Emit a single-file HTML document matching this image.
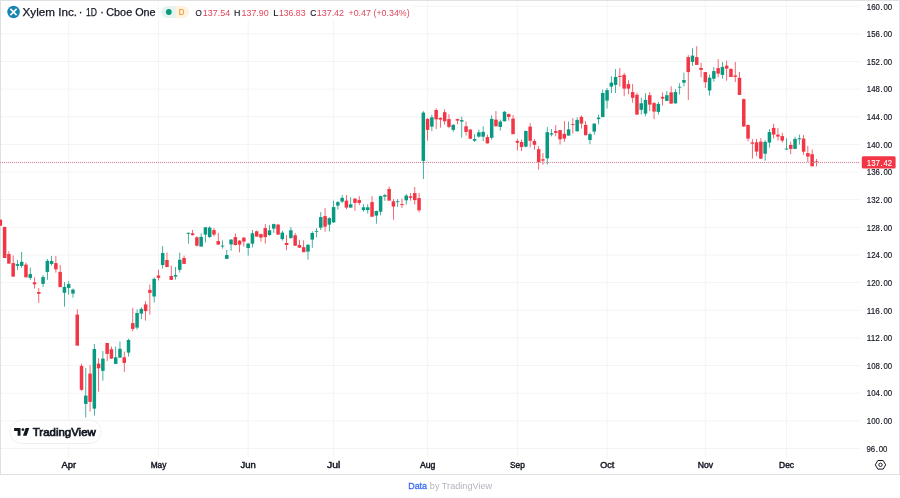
<!DOCTYPE html>
<html><head><meta charset="utf-8"><title>XYL</title>
<style>
html,body{margin:0;padding:0;background:#ffffff;width:900px;height:498px;overflow:hidden;}
body{font-family:"Liberation Sans",sans-serif;position:relative;}
.w{position:absolute;left:0;top:0;width:900px;height:475px;box-sizing:border-box;border:1px solid #e0e3eb;}
svg{position:absolute;left:0;top:0;filter:blur(0.35px);}
</style></head>
<body>
<svg width="900" height="498" viewBox="0 0 900 498">
<rect x="0.5" y="0.5" width="899" height="474" fill="none" stroke="#dfe0e2" stroke-width="1"/>
<rect x="1" y="5.70" width="859" height="1" fill="#f4f4f6"/>
<rect x="1" y="33.34" width="859" height="1" fill="#f4f4f6"/>
<rect x="1" y="60.99" width="859" height="1" fill="#f4f4f6"/>
<rect x="1" y="88.63" width="859" height="1" fill="#f4f4f6"/>
<rect x="1" y="116.28" width="859" height="1" fill="#f4f4f6"/>
<rect x="1" y="143.92" width="859" height="1" fill="#f4f4f6"/>
<rect x="1" y="171.56" width="859" height="1" fill="#f4f4f6"/>
<rect x="1" y="199.21" width="859" height="1" fill="#f4f4f6"/>
<rect x="1" y="226.85" width="859" height="1" fill="#f4f4f6"/>
<rect x="1" y="254.50" width="859" height="1" fill="#f4f4f6"/>
<rect x="1" y="282.14" width="859" height="1" fill="#f4f4f6"/>
<rect x="1" y="309.78" width="859" height="1" fill="#f4f4f6"/>
<rect x="1" y="337.43" width="859" height="1" fill="#f4f4f6"/>
<rect x="1" y="365.07" width="859" height="1" fill="#f4f4f6"/>
<rect x="1" y="392.72" width="859" height="1" fill="#f4f4f6"/>
<rect x="1" y="420.36" width="859" height="1" fill="#f4f4f6"/>
<rect x="1" y="448.00" width="859" height="1" fill="#f4f4f6"/>
<rect x="68.20" y="1" width="1" height="456" fill="#f4f4f6"/>
<rect x="157.92" y="1" width="1" height="456" fill="#f4f4f6"/>
<rect x="247.65" y="1" width="1" height="456" fill="#f4f4f6"/>
<rect x="333.10" y="1" width="1" height="456" fill="#f4f4f6"/>
<rect x="427.10" y="1" width="1" height="456" fill="#f4f4f6"/>
<rect x="516.82" y="1" width="1" height="456" fill="#f4f4f6"/>
<rect x="606.55" y="1" width="1" height="456" fill="#f4f4f6"/>
<rect x="704.82" y="1" width="1" height="456" fill="#f4f4f6"/>
<rect x="786.00" y="1" width="1" height="456" fill="#f4f4f6"/>
<rect x="1" y="1" width="411" height="18.8" fill="#ffffff"/>
<rect x="157.92" y="1" width="1" height="19" fill="#f4f4f6" opacity="0.6"/>
<rect x="-0.04" y="219.70" width="0.75" height="6.00" fill="#f23645"/>
<rect x="-1.41" y="219.70" width="3.5" height="6.00" fill="#f23645"/>
<rect x="4.24" y="226.90" width="0.75" height="31.10" fill="#f23645"/>
<rect x="2.86" y="226.90" width="3.5" height="31.10" fill="#f23645"/>
<rect x="8.51" y="251.20" width="0.75" height="12.40" fill="#f23645"/>
<rect x="7.13" y="254.00" width="3.5" height="9.60" fill="#f23645"/>
<rect x="12.78" y="255.50" width="0.75" height="21.10" fill="#f23645"/>
<rect x="11.41" y="263.10" width="3.5" height="13.50" fill="#f23645"/>
<rect x="17.05" y="260.00" width="0.75" height="9.90" fill="#089981"/>
<rect x="15.68" y="264.10" width="3.5" height="1.80" fill="#089981"/>
<rect x="21.33" y="252.00" width="0.75" height="15.90" fill="#089981"/>
<rect x="19.95" y="261.80" width="3.5" height="4.10" fill="#089981"/>
<rect x="25.60" y="262.50" width="0.75" height="14.80" fill="#f23645"/>
<rect x="24.22" y="264.60" width="3.5" height="12.70" fill="#f23645"/>
<rect x="29.87" y="267.60" width="0.75" height="12.30" fill="#089981"/>
<rect x="28.50" y="274.10" width="3.5" height="3.80" fill="#089981"/>
<rect x="34.14" y="277.30" width="0.75" height="11.30" fill="#f23645"/>
<rect x="32.77" y="282.30" width="3.5" height="2.00" fill="#f23645"/>
<rect x="38.42" y="288.20" width="0.75" height="14.70" fill="#f23645"/>
<rect x="37.04" y="292.00" width="3.5" height="1.80" fill="#f23645"/>
<rect x="42.69" y="275.10" width="0.75" height="12.00" fill="#089981"/>
<rect x="41.31" y="277.10" width="3.5" height="6.80" fill="#089981"/>
<rect x="46.96" y="259.00" width="0.75" height="20.90" fill="#089981"/>
<rect x="45.59" y="260.80" width="3.5" height="11.10" fill="#089981"/>
<rect x="51.23" y="256.00" width="0.75" height="9.60" fill="#089981"/>
<rect x="49.86" y="261.00" width="3.5" height="2.90" fill="#089981"/>
<rect x="55.51" y="256.00" width="0.75" height="16.60" fill="#f23645"/>
<rect x="54.13" y="263.10" width="3.5" height="6.20" fill="#f23645"/>
<rect x="59.78" y="264.90" width="0.75" height="22.20" fill="#f23645"/>
<rect x="58.40" y="271.90" width="3.5" height="15.20" fill="#f23645"/>
<rect x="64.05" y="282.00" width="0.75" height="24.60" fill="#089981"/>
<rect x="62.68" y="286.90" width="3.5" height="5.90" fill="#089981"/>
<rect x="68.33" y="281.20" width="0.75" height="13.60" fill="#089981"/>
<rect x="66.95" y="284.10" width="3.5" height="3.80" fill="#089981"/>
<rect x="72.60" y="288.60" width="0.75" height="9.10" fill="#089981"/>
<rect x="71.22" y="289.60" width="3.5" height="4.00" fill="#089981"/>
<rect x="76.87" y="309.10" width="0.75" height="36.50" fill="#f23645"/>
<rect x="75.50" y="314.60" width="3.5" height="31.00" fill="#f23645"/>
<rect x="81.14" y="363.60" width="0.75" height="27.30" fill="#f23645"/>
<rect x="79.77" y="365.90" width="3.5" height="23.90" fill="#f23645"/>
<rect x="85.42" y="368.10" width="0.75" height="49.30" fill="#089981"/>
<rect x="84.04" y="395.60" width="3.5" height="8.30" fill="#089981"/>
<rect x="89.69" y="365.10" width="0.75" height="46.50" fill="#f23645"/>
<rect x="88.31" y="373.60" width="3.5" height="28.30" fill="#f23645"/>
<rect x="93.96" y="344.00" width="0.75" height="71.60" fill="#089981"/>
<rect x="92.59" y="349.00" width="3.5" height="59.60" fill="#089981"/>
<rect x="98.23" y="358.10" width="0.75" height="33.50" fill="#f23645"/>
<rect x="96.86" y="363.60" width="3.5" height="4.70" fill="#f23645"/>
<rect x="102.51" y="351.00" width="0.75" height="29.70" fill="#089981"/>
<rect x="101.13" y="358.60" width="3.5" height="12.30" fill="#089981"/>
<rect x="106.78" y="343.00" width="0.75" height="18.10" fill="#f23645"/>
<rect x="105.40" y="343.00" width="3.5" height="10.90" fill="#f23645"/>
<rect x="111.05" y="346.50" width="0.75" height="12.50" fill="#f23645"/>
<rect x="109.68" y="349.20" width="3.5" height="9.40" fill="#f23645"/>
<rect x="115.32" y="346.50" width="0.75" height="17.50" fill="#089981"/>
<rect x="113.95" y="357.30" width="3.5" height="6.60" fill="#089981"/>
<rect x="119.60" y="341.50" width="0.75" height="16.50" fill="#089981"/>
<rect x="118.22" y="348.80" width="3.5" height="8.80" fill="#089981"/>
<rect x="123.87" y="351.50" width="0.75" height="20.40" fill="#f23645"/>
<rect x="122.49" y="357.30" width="3.5" height="5.60" fill="#f23645"/>
<rect x="128.14" y="338.70" width="0.75" height="17.90" fill="#089981"/>
<rect x="126.77" y="340.00" width="3.5" height="12.60" fill="#089981"/>
<rect x="132.41" y="307.90" width="0.75" height="23.40" fill="#f23645"/>
<rect x="131.04" y="323.10" width="3.5" height="5.80" fill="#f23645"/>
<rect x="136.69" y="309.50" width="0.75" height="20.10" fill="#089981"/>
<rect x="135.31" y="313.00" width="3.5" height="14.60" fill="#089981"/>
<rect x="140.96" y="307.20" width="0.75" height="11.90" fill="#089981"/>
<rect x="139.58" y="308.90" width="3.5" height="4.70" fill="#089981"/>
<rect x="145.23" y="301.10" width="0.75" height="19.50" fill="#f23645"/>
<rect x="143.86" y="304.40" width="3.5" height="6.70" fill="#f23645"/>
<rect x="149.50" y="284.50" width="0.75" height="30.20" fill="#f23645"/>
<rect x="148.13" y="289.90" width="3.5" height="3.00" fill="#f23645"/>
<rect x="153.78" y="277.40" width="0.75" height="25.20" fill="#089981"/>
<rect x="152.40" y="278.80" width="3.5" height="17.70" fill="#089981"/>
<rect x="158.05" y="269.80" width="0.75" height="10.70" fill="#f23645"/>
<rect x="156.67" y="275.50" width="3.5" height="2.30" fill="#f23645"/>
<rect x="162.32" y="246.10" width="0.75" height="22.50" fill="#089981"/>
<rect x="160.95" y="253.00" width="3.5" height="12.10" fill="#089981"/>
<rect x="166.59" y="252.50" width="0.75" height="14.60" fill="#f23645"/>
<rect x="165.22" y="260.00" width="3.5" height="7.10" fill="#f23645"/>
<rect x="170.87" y="265.60" width="0.75" height="14.30" fill="#f23645"/>
<rect x="169.49" y="276.00" width="3.5" height="3.90" fill="#f23645"/>
<rect x="175.14" y="266.90" width="0.75" height="12.70" fill="#089981"/>
<rect x="173.76" y="275.10" width="3.5" height="1.50" fill="#089981"/>
<rect x="179.41" y="252.50" width="0.75" height="20.10" fill="#089981"/>
<rect x="178.04" y="259.80" width="3.5" height="10.00" fill="#089981"/>
<rect x="183.69" y="255.60" width="0.75" height="8.30" fill="#f23645"/>
<rect x="182.31" y="258.00" width="3.5" height="5.90" fill="#f23645"/>
<rect x="187.96" y="232.60" width="0.75" height="11.10" fill="#089981"/>
<rect x="186.58" y="232.80" width="3.5" height="1.00" fill="#089981"/>
<rect x="192.23" y="229.90" width="0.75" height="5.70" fill="#f23645"/>
<rect x="190.86" y="233.30" width="3.5" height="1.80" fill="#f23645"/>
<rect x="196.50" y="236.30" width="0.75" height="10.20" fill="#f23645"/>
<rect x="195.13" y="237.30" width="3.5" height="8.40" fill="#f23645"/>
<rect x="200.78" y="233.30" width="0.75" height="13.30" fill="#089981"/>
<rect x="199.40" y="236.90" width="3.5" height="9.70" fill="#089981"/>
<rect x="205.05" y="227.10" width="0.75" height="15.30" fill="#089981"/>
<rect x="203.67" y="227.30" width="3.5" height="7.30" fill="#089981"/>
<rect x="209.32" y="226.30" width="0.75" height="11.70" fill="#089981"/>
<rect x="207.95" y="227.60" width="3.5" height="9.40" fill="#089981"/>
<rect x="213.59" y="228.10" width="0.75" height="8.20" fill="#f23645"/>
<rect x="212.22" y="230.10" width="3.5" height="4.50" fill="#f23645"/>
<rect x="217.87" y="232.90" width="0.75" height="11.70" fill="#f23645"/>
<rect x="216.49" y="241.10" width="3.5" height="3.50" fill="#f23645"/>
<rect x="222.14" y="240.40" width="0.75" height="8.20" fill="#089981"/>
<rect x="220.76" y="245.60" width="3.5" height="0.90" fill="#089981"/>
<rect x="226.41" y="250.00" width="0.75" height="8.90" fill="#089981"/>
<rect x="225.04" y="255.00" width="3.5" height="3.90" fill="#089981"/>
<rect x="230.68" y="239.10" width="0.75" height="11.60" fill="#089981"/>
<rect x="229.31" y="239.60" width="3.5" height="4.80" fill="#089981"/>
<rect x="234.96" y="233.40" width="0.75" height="12.20" fill="#f23645"/>
<rect x="233.58" y="237.10" width="3.5" height="7.90" fill="#f23645"/>
<rect x="239.23" y="240.10" width="0.75" height="12.30" fill="#f23645"/>
<rect x="237.85" y="240.60" width="3.5" height="4.00" fill="#f23645"/>
<rect x="243.50" y="237.00" width="0.75" height="9.50" fill="#f23645"/>
<rect x="242.13" y="237.70" width="3.5" height="3.90" fill="#f23645"/>
<rect x="247.77" y="243.00" width="0.75" height="12.60" fill="#089981"/>
<rect x="246.40" y="243.60" width="3.5" height="4.40" fill="#089981"/>
<rect x="252.05" y="230.10" width="0.75" height="17.30" fill="#089981"/>
<rect x="250.67" y="233.30" width="3.5" height="10.40" fill="#089981"/>
<rect x="256.32" y="230.60" width="0.75" height="6.00" fill="#f23645"/>
<rect x="254.94" y="231.30" width="3.5" height="5.30" fill="#f23645"/>
<rect x="260.59" y="233.60" width="0.75" height="8.00" fill="#f23645"/>
<rect x="259.22" y="234.10" width="3.5" height="3.50" fill="#f23645"/>
<rect x="264.86" y="224.10" width="0.75" height="19.50" fill="#f23645"/>
<rect x="263.49" y="228.10" width="3.5" height="9.00" fill="#f23645"/>
<rect x="269.14" y="225.10" width="0.75" height="10.50" fill="#089981"/>
<rect x="267.76" y="230.30" width="3.5" height="4.80" fill="#089981"/>
<rect x="273.41" y="223.60" width="0.75" height="9.30" fill="#089981"/>
<rect x="272.03" y="224.10" width="3.5" height="4.50" fill="#089981"/>
<rect x="277.68" y="223.90" width="0.75" height="11.00" fill="#f23645"/>
<rect x="276.31" y="224.60" width="3.5" height="10.00" fill="#f23645"/>
<rect x="281.95" y="230.90" width="0.75" height="9.70" fill="#089981"/>
<rect x="280.58" y="232.60" width="3.5" height="6.50" fill="#089981"/>
<rect x="286.23" y="235.10" width="0.75" height="15.10" fill="#f23645"/>
<rect x="284.85" y="243.00" width="3.5" height="2.00" fill="#f23645"/>
<rect x="290.50" y="227.10" width="0.75" height="11.50" fill="#089981"/>
<rect x="289.13" y="230.30" width="3.5" height="7.80" fill="#089981"/>
<rect x="294.77" y="232.90" width="0.75" height="12.80" fill="#f23645"/>
<rect x="293.40" y="235.30" width="3.5" height="10.40" fill="#f23645"/>
<rect x="299.05" y="239.90" width="0.75" height="7.80" fill="#f23645"/>
<rect x="297.67" y="245.00" width="3.5" height="2.70" fill="#f23645"/>
<rect x="303.32" y="240.30" width="0.75" height="11.90" fill="#f23645"/>
<rect x="301.94" y="247.20" width="3.5" height="5.00" fill="#f23645"/>
<rect x="307.59" y="244.20" width="0.75" height="15.40" fill="#089981"/>
<rect x="306.22" y="244.80" width="3.5" height="6.80" fill="#089981"/>
<rect x="311.86" y="231.30" width="0.75" height="16.50" fill="#089981"/>
<rect x="310.49" y="233.00" width="3.5" height="6.60" fill="#089981"/>
<rect x="316.14" y="228.30" width="0.75" height="9.10" fill="#089981"/>
<rect x="314.76" y="231.20" width="3.5" height="0.80" fill="#089981"/>
<rect x="320.41" y="212.10" width="0.75" height="17.90" fill="#089981"/>
<rect x="319.03" y="217.10" width="3.5" height="10.60" fill="#089981"/>
<rect x="324.68" y="208.10" width="0.75" height="23.70" fill="#f23645"/>
<rect x="323.31" y="216.10" width="3.5" height="10.50" fill="#f23645"/>
<rect x="328.95" y="217.10" width="0.75" height="14.40" fill="#089981"/>
<rect x="327.58" y="218.20" width="3.5" height="6.50" fill="#089981"/>
<rect x="333.23" y="200.60" width="0.75" height="22.10" fill="#089981"/>
<rect x="331.85" y="207.10" width="3.5" height="15.30" fill="#089981"/>
<rect x="337.50" y="201.10" width="0.75" height="8.50" fill="#089981"/>
<rect x="336.12" y="202.10" width="3.5" height="3.50" fill="#089981"/>
<rect x="341.77" y="195.10" width="0.75" height="8.00" fill="#089981"/>
<rect x="340.40" y="197.90" width="3.5" height="3.70" fill="#089981"/>
<rect x="346.04" y="195.10" width="0.75" height="14.00" fill="#f23645"/>
<rect x="344.67" y="200.60" width="3.5" height="7.00" fill="#f23645"/>
<rect x="350.32" y="197.10" width="0.75" height="10.50" fill="#089981"/>
<rect x="348.94" y="204.30" width="3.5" height="3.30" fill="#089981"/>
<rect x="354.59" y="198.10" width="0.75" height="12.80" fill="#f23645"/>
<rect x="353.21" y="198.60" width="3.5" height="4.30" fill="#f23645"/>
<rect x="358.86" y="196.10" width="0.75" height="9.00" fill="#f23645"/>
<rect x="357.49" y="200.10" width="3.5" height="2.80" fill="#f23645"/>
<rect x="363.13" y="204.10" width="0.75" height="7.50" fill="#089981"/>
<rect x="361.76" y="207.30" width="3.5" height="2.80" fill="#089981"/>
<rect x="367.41" y="204.10" width="0.75" height="9.50" fill="#089981"/>
<rect x="366.03" y="207.30" width="3.5" height="2.80" fill="#089981"/>
<rect x="371.68" y="196.10" width="0.75" height="20.60" fill="#f23645"/>
<rect x="370.30" y="202.10" width="3.5" height="14.60" fill="#f23645"/>
<rect x="375.95" y="210.60" width="0.75" height="13.10" fill="#089981"/>
<rect x="374.58" y="211.00" width="3.5" height="4.60" fill="#089981"/>
<rect x="380.22" y="195.60" width="0.75" height="19.70" fill="#089981"/>
<rect x="378.85" y="196.10" width="3.5" height="15.60" fill="#089981"/>
<rect x="384.50" y="193.90" width="0.75" height="6.90" fill="#089981"/>
<rect x="383.12" y="195.10" width="3.5" height="1.50" fill="#089981"/>
<rect x="388.77" y="186.50" width="0.75" height="14.10" fill="#f23645"/>
<rect x="387.39" y="189.00" width="3.5" height="11.60" fill="#f23645"/>
<rect x="393.04" y="199.10" width="0.75" height="20.60" fill="#f23645"/>
<rect x="391.67" y="201.30" width="3.5" height="5.30" fill="#f23645"/>
<rect x="397.32" y="199.10" width="0.75" height="7.80" fill="#089981"/>
<rect x="395.94" y="201.30" width="3.5" height="0.80" fill="#089981"/>
<rect x="401.59" y="198.60" width="0.75" height="9.30" fill="#f23645"/>
<rect x="400.21" y="204.10" width="3.5" height="1.00" fill="#f23645"/>
<rect x="405.86" y="194.10" width="0.75" height="10.50" fill="#089981"/>
<rect x="404.49" y="195.60" width="3.5" height="4.70" fill="#089981"/>
<rect x="410.13" y="193.10" width="0.75" height="7.50" fill="#f23645"/>
<rect x="408.76" y="196.30" width="3.5" height="1.60" fill="#f23645"/>
<rect x="414.41" y="187.00" width="0.75" height="17.60" fill="#f23645"/>
<rect x="413.03" y="193.10" width="3.5" height="7.00" fill="#f23645"/>
<rect x="418.68" y="193.10" width="0.75" height="19.20" fill="#f23645"/>
<rect x="417.30" y="198.10" width="3.5" height="12.20" fill="#f23645"/>
<rect x="422.95" y="111.20" width="0.75" height="67.80" fill="#089981"/>
<rect x="421.58" y="112.60" width="3.5" height="48.30" fill="#089981"/>
<rect x="427.22" y="118.10" width="0.75" height="22.50" fill="#f23645"/>
<rect x="425.85" y="118.90" width="3.5" height="11.00" fill="#f23645"/>
<rect x="431.50" y="114.90" width="0.75" height="16.20" fill="#089981"/>
<rect x="430.12" y="117.30" width="3.5" height="9.30" fill="#089981"/>
<rect x="435.77" y="108.20" width="0.75" height="20.90" fill="#f23645"/>
<rect x="434.39" y="110.00" width="3.5" height="9.30" fill="#f23645"/>
<rect x="440.04" y="117.30" width="0.75" height="10.30" fill="#f23645"/>
<rect x="438.67" y="117.90" width="3.5" height="1.70" fill="#f23645"/>
<rect x="444.31" y="109.20" width="0.75" height="15.40" fill="#f23645"/>
<rect x="442.94" y="112.20" width="3.5" height="9.10" fill="#f23645"/>
<rect x="448.59" y="114.10" width="0.75" height="14.20" fill="#f23645"/>
<rect x="447.21" y="119.10" width="3.5" height="7.80" fill="#f23645"/>
<rect x="452.86" y="124.10" width="0.75" height="7.80" fill="#089981"/>
<rect x="451.48" y="124.90" width="3.5" height="5.00" fill="#089981"/>
<rect x="457.13" y="118.60" width="0.75" height="5.50" fill="#f23645"/>
<rect x="455.76" y="119.10" width="3.5" height="1.50" fill="#f23645"/>
<rect x="461.40" y="116.60" width="0.75" height="21.10" fill="#089981"/>
<rect x="460.03" y="120.10" width="3.5" height="1.50" fill="#089981"/>
<rect x="465.68" y="121.60" width="0.75" height="14.00" fill="#f23645"/>
<rect x="464.30" y="126.30" width="3.5" height="5.60" fill="#f23645"/>
<rect x="469.95" y="129.10" width="0.75" height="10.10" fill="#f23645"/>
<rect x="468.57" y="129.60" width="3.5" height="9.10" fill="#f23645"/>
<rect x="474.22" y="134.10" width="0.75" height="7.80" fill="#089981"/>
<rect x="472.85" y="139.00" width="3.5" height="1.70" fill="#089981"/>
<rect x="478.49" y="129.60" width="0.75" height="8.10" fill="#089981"/>
<rect x="477.12" y="132.30" width="3.5" height="4.30" fill="#089981"/>
<rect x="482.77" y="126.20" width="0.75" height="15.00" fill="#089981"/>
<rect x="481.39" y="131.90" width="3.5" height="4.80" fill="#089981"/>
<rect x="487.04" y="134.60" width="0.75" height="8.90" fill="#f23645"/>
<rect x="485.66" y="137.10" width="3.5" height="6.30" fill="#f23645"/>
<rect x="491.31" y="115.30" width="0.75" height="24.30" fill="#089981"/>
<rect x="489.94" y="118.90" width="3.5" height="18.90" fill="#089981"/>
<rect x="495.58" y="111.00" width="0.75" height="15.30" fill="#f23645"/>
<rect x="494.21" y="119.60" width="3.5" height="6.70" fill="#f23645"/>
<rect x="499.86" y="119.60" width="0.75" height="11.00" fill="#089981"/>
<rect x="498.48" y="121.60" width="3.5" height="5.30" fill="#089981"/>
<rect x="504.13" y="111.00" width="0.75" height="10.30" fill="#089981"/>
<rect x="502.76" y="111.80" width="3.5" height="9.50" fill="#089981"/>
<rect x="508.40" y="113.50" width="0.75" height="7.10" fill="#f23645"/>
<rect x="507.03" y="114.10" width="3.5" height="2.80" fill="#f23645"/>
<rect x="512.68" y="115.10" width="0.75" height="19.10" fill="#f23645"/>
<rect x="511.30" y="118.60" width="3.5" height="15.60" fill="#f23645"/>
<rect x="516.95" y="138.80" width="0.75" height="11.80" fill="#f23645"/>
<rect x="515.57" y="141.00" width="3.5" height="1.70" fill="#f23645"/>
<rect x="521.22" y="139.50" width="0.75" height="11.60" fill="#f23645"/>
<rect x="519.85" y="142.00" width="3.5" height="5.10" fill="#f23645"/>
<rect x="525.49" y="130.50" width="0.75" height="16.80" fill="#089981"/>
<rect x="524.12" y="131.00" width="3.5" height="15.60" fill="#089981"/>
<rect x="529.77" y="123.10" width="0.75" height="24.30" fill="#f23645"/>
<rect x="528.39" y="126.60" width="3.5" height="14.20" fill="#f23645"/>
<rect x="534.04" y="139.00" width="0.75" height="10.60" fill="#f23645"/>
<rect x="532.66" y="141.00" width="3.5" height="3.80" fill="#f23645"/>
<rect x="538.31" y="146.10" width="0.75" height="23.60" fill="#f23645"/>
<rect x="536.94" y="149.20" width="3.5" height="13.10" fill="#f23645"/>
<rect x="542.58" y="153.10" width="0.75" height="11.50" fill="#f23645"/>
<rect x="541.21" y="159.30" width="3.5" height="1.30" fill="#f23645"/>
<rect x="546.86" y="127.10" width="0.75" height="37.50" fill="#089981"/>
<rect x="545.48" y="132.20" width="3.5" height="26.10" fill="#089981"/>
<rect x="551.13" y="129.10" width="0.75" height="7.30" fill="#089981"/>
<rect x="549.75" y="133.30" width="3.5" height="1.30" fill="#089981"/>
<rect x="555.40" y="125.10" width="0.75" height="11.20" fill="#f23645"/>
<rect x="554.03" y="131.10" width="3.5" height="1.80" fill="#f23645"/>
<rect x="559.67" y="129.90" width="0.75" height="14.60" fill="#f23645"/>
<rect x="558.30" y="130.10" width="3.5" height="9.20" fill="#f23645"/>
<rect x="563.95" y="121.10" width="0.75" height="20.70" fill="#f23645"/>
<rect x="562.57" y="133.80" width="3.5" height="4.80" fill="#f23645"/>
<rect x="568.22" y="121.60" width="0.75" height="14.00" fill="#089981"/>
<rect x="566.84" y="129.40" width="3.5" height="6.20" fill="#089981"/>
<rect x="572.49" y="118.10" width="0.75" height="15.50" fill="#f23645"/>
<rect x="571.12" y="124.10" width="3.5" height="0.80" fill="#f23645"/>
<rect x="576.76" y="117.30" width="0.75" height="14.20" fill="#089981"/>
<rect x="575.39" y="119.90" width="3.5" height="11.40" fill="#089981"/>
<rect x="581.04" y="115.60" width="0.75" height="13.00" fill="#f23645"/>
<rect x="579.66" y="116.90" width="3.5" height="6.70" fill="#f23645"/>
<rect x="585.31" y="121.10" width="0.75" height="14.10" fill="#f23645"/>
<rect x="583.93" y="124.90" width="3.5" height="10.30" fill="#f23645"/>
<rect x="589.58" y="132.60" width="0.75" height="11.60" fill="#089981"/>
<rect x="588.21" y="134.20" width="3.5" height="5.80" fill="#089981"/>
<rect x="593.85" y="123.60" width="0.75" height="11.10" fill="#089981"/>
<rect x="592.48" y="123.60" width="3.5" height="8.00" fill="#089981"/>
<rect x="598.13" y="114.60" width="0.75" height="9.70" fill="#089981"/>
<rect x="596.75" y="117.60" width="3.5" height="1.50" fill="#089981"/>
<rect x="602.40" y="89.60" width="0.75" height="27.50" fill="#089981"/>
<rect x="601.02" y="93.00" width="3.5" height="24.10" fill="#089981"/>
<rect x="606.67" y="88.10" width="0.75" height="20.50" fill="#089981"/>
<rect x="605.30" y="90.10" width="3.5" height="10.50" fill="#089981"/>
<rect x="610.95" y="76.10" width="0.75" height="16.90" fill="#089981"/>
<rect x="609.57" y="82.60" width="3.5" height="4.00" fill="#089981"/>
<rect x="615.22" y="69.10" width="0.75" height="23.90" fill="#089981"/>
<rect x="613.84" y="76.90" width="3.5" height="8.00" fill="#089981"/>
<rect x="619.49" y="67.90" width="0.75" height="18.70" fill="#f23645"/>
<rect x="618.12" y="75.90" width="3.5" height="1.00" fill="#f23645"/>
<rect x="623.76" y="72.90" width="0.75" height="23.30" fill="#f23645"/>
<rect x="622.39" y="74.90" width="3.5" height="13.70" fill="#f23645"/>
<rect x="628.04" y="80.30" width="0.75" height="13.90" fill="#f23645"/>
<rect x="626.66" y="84.10" width="3.5" height="4.50" fill="#f23645"/>
<rect x="632.31" y="84.10" width="0.75" height="18.60" fill="#f23645"/>
<rect x="630.93" y="92.10" width="3.5" height="5.70" fill="#f23645"/>
<rect x="636.58" y="92.70" width="0.75" height="21.90" fill="#f23645"/>
<rect x="635.21" y="94.80" width="3.5" height="19.80" fill="#f23645"/>
<rect x="640.85" y="97.60" width="0.75" height="17.00" fill="#089981"/>
<rect x="639.48" y="103.30" width="3.5" height="6.50" fill="#089981"/>
<rect x="645.13" y="93.20" width="0.75" height="23.00" fill="#089981"/>
<rect x="643.75" y="99.90" width="3.5" height="13.70" fill="#089981"/>
<rect x="649.40" y="92.00" width="0.75" height="19.20" fill="#f23645"/>
<rect x="648.02" y="95.20" width="3.5" height="9.40" fill="#f23645"/>
<rect x="653.67" y="101.90" width="0.75" height="17.20" fill="#f23645"/>
<rect x="652.30" y="103.10" width="3.5" height="8.50" fill="#f23645"/>
<rect x="657.94" y="101.90" width="0.75" height="12.70" fill="#089981"/>
<rect x="656.57" y="103.90" width="3.5" height="8.00" fill="#089981"/>
<rect x="662.22" y="92.50" width="0.75" height="13.10" fill="#f23645"/>
<rect x="660.84" y="96.90" width="3.5" height="1.70" fill="#f23645"/>
<rect x="666.49" y="91.00" width="0.75" height="10.20" fill="#089981"/>
<rect x="665.11" y="95.20" width="3.5" height="5.70" fill="#089981"/>
<rect x="670.76" y="86.20" width="0.75" height="17.40" fill="#f23645"/>
<rect x="669.39" y="92.40" width="3.5" height="11.20" fill="#f23645"/>
<rect x="675.03" y="89.10" width="0.75" height="14.30" fill="#089981"/>
<rect x="673.66" y="92.00" width="3.5" height="11.40" fill="#089981"/>
<rect x="679.31" y="83.20" width="0.75" height="11.30" fill="#089981"/>
<rect x="677.93" y="86.80" width="3.5" height="0.80" fill="#089981"/>
<rect x="683.58" y="72.60" width="0.75" height="13.80" fill="#089981"/>
<rect x="682.20" y="80.00" width="3.5" height="2.70" fill="#089981"/>
<rect x="687.85" y="55.10" width="0.75" height="44.80" fill="#f23645"/>
<rect x="686.48" y="57.10" width="3.5" height="15.00" fill="#f23645"/>
<rect x="692.12" y="48.20" width="0.75" height="17.70" fill="#089981"/>
<rect x="690.75" y="55.60" width="3.5" height="6.30" fill="#089981"/>
<rect x="696.40" y="46.20" width="0.75" height="18.70" fill="#f23645"/>
<rect x="695.02" y="57.10" width="3.5" height="7.80" fill="#f23645"/>
<rect x="700.67" y="62.60" width="0.75" height="14.70" fill="#f23645"/>
<rect x="699.29" y="67.90" width="3.5" height="2.00" fill="#f23645"/>
<rect x="704.94" y="72.00" width="0.75" height="16.00" fill="#f23645"/>
<rect x="703.57" y="72.10" width="3.5" height="10.10" fill="#f23645"/>
<rect x="709.22" y="74.60" width="0.75" height="20.90" fill="#089981"/>
<rect x="707.84" y="77.70" width="3.5" height="12.80" fill="#089981"/>
<rect x="713.49" y="67.10" width="0.75" height="14.60" fill="#089981"/>
<rect x="712.11" y="71.10" width="3.5" height="7.60" fill="#089981"/>
<rect x="717.76" y="59.10" width="0.75" height="18.20" fill="#f23645"/>
<rect x="716.39" y="68.10" width="3.5" height="5.50" fill="#f23645"/>
<rect x="722.03" y="62.10" width="0.75" height="16.60" fill="#089981"/>
<rect x="720.66" y="66.90" width="3.5" height="8.00" fill="#089981"/>
<rect x="726.31" y="60.60" width="0.75" height="20.10" fill="#f23645"/>
<rect x="724.93" y="65.60" width="3.5" height="3.00" fill="#f23645"/>
<rect x="730.58" y="68.50" width="0.75" height="8.50" fill="#f23645"/>
<rect x="729.20" y="68.90" width="3.5" height="8.10" fill="#f23645"/>
<rect x="734.85" y="61.90" width="0.75" height="20.20" fill="#f23645"/>
<rect x="733.48" y="75.50" width="3.5" height="1.40" fill="#f23645"/>
<rect x="739.12" y="72.00" width="0.75" height="22.90" fill="#f23645"/>
<rect x="737.75" y="77.80" width="3.5" height="17.10" fill="#f23645"/>
<rect x="743.40" y="98.60" width="0.75" height="28.40" fill="#f23645"/>
<rect x="742.02" y="99.10" width="3.5" height="27.40" fill="#f23645"/>
<rect x="747.67" y="124.50" width="0.75" height="16.80" fill="#f23645"/>
<rect x="746.29" y="125.00" width="3.5" height="13.60" fill="#f23645"/>
<rect x="751.94" y="139.10" width="0.75" height="19.50" fill="#f23645"/>
<rect x="750.57" y="142.40" width="3.5" height="1.30" fill="#f23645"/>
<rect x="756.21" y="138.90" width="0.75" height="17.30" fill="#f23645"/>
<rect x="754.84" y="142.30" width="3.5" height="9.30" fill="#f23645"/>
<rect x="760.49" y="138.10" width="0.75" height="20.60" fill="#f23645"/>
<rect x="759.11" y="141.60" width="3.5" height="17.10" fill="#f23645"/>
<rect x="764.76" y="140.10" width="0.75" height="20.60" fill="#089981"/>
<rect x="763.38" y="141.90" width="3.5" height="11.80" fill="#089981"/>
<rect x="769.03" y="129.10" width="0.75" height="18.50" fill="#089981"/>
<rect x="767.66" y="132.10" width="3.5" height="10.50" fill="#089981"/>
<rect x="773.30" y="123.80" width="0.75" height="14.80" fill="#f23645"/>
<rect x="771.93" y="127.90" width="3.5" height="6.70" fill="#f23645"/>
<rect x="777.58" y="128.10" width="0.75" height="12.50" fill="#f23645"/>
<rect x="776.20" y="134.60" width="3.5" height="2.00" fill="#f23645"/>
<rect x="781.85" y="132.90" width="0.75" height="9.70" fill="#f23645"/>
<rect x="780.47" y="136.10" width="3.5" height="4.50" fill="#f23645"/>
<rect x="786.12" y="138.10" width="0.75" height="11.50" fill="#089981"/>
<rect x="784.75" y="148.60" width="3.5" height="1.00" fill="#089981"/>
<rect x="790.39" y="141.60" width="0.75" height="12.60" fill="#f23645"/>
<rect x="789.02" y="144.90" width="3.5" height="4.00" fill="#f23645"/>
<rect x="794.67" y="136.60" width="0.75" height="12.30" fill="#089981"/>
<rect x="793.29" y="138.90" width="3.5" height="10.00" fill="#089981"/>
<rect x="798.94" y="134.60" width="0.75" height="10.00" fill="#089981"/>
<rect x="797.56" y="138.30" width="3.5" height="1.00" fill="#089981"/>
<rect x="803.21" y="135.10" width="0.75" height="19.70" fill="#f23645"/>
<rect x="801.84" y="138.60" width="3.5" height="13.10" fill="#f23645"/>
<rect x="807.48" y="146.00" width="0.75" height="16.10" fill="#f23645"/>
<rect x="806.11" y="153.10" width="3.5" height="3.50" fill="#f23645"/>
<rect x="811.76" y="149.50" width="0.75" height="16.80" fill="#f23645"/>
<rect x="810.38" y="154.20" width="3.5" height="12.10" fill="#f23645"/>
<rect x="816.03" y="159.00" width="0.75" height="7.30" fill="#f23645"/>
<rect x="814.65" y="161.40" width="3.5" height="0.90" fill="#f23645"/>
<rect x="1" y="161.5" width="859" height="2" fill="#f23645" opacity="0.05"/>
<line x1="0" y1="162.5" x2="860" y2="162.5" stroke="#d48893" stroke-width="1" stroke-dasharray="1 1"/>
<text x="866.80" y="9.80" font-family="Liberation Sans, sans-serif" font-size="9.2" fill="#131722" stroke="#131722" stroke-width="0.18" textLength="13.05" lengthAdjust="spacingAndGlyphs">160</text>
<text x="880.35" y="9.80" font-family="Liberation Sans, sans-serif" font-size="9.2" fill="#131722" stroke="#131722" stroke-width="0.18">.</text>
<text x="883.45" y="9.80" font-family="Liberation Sans, sans-serif" font-size="9.2" fill="#131722" stroke="#131722" stroke-width="0.18" textLength="8.70" lengthAdjust="spacingAndGlyphs">00</text>
<text x="866.80" y="37.09" font-family="Liberation Sans, sans-serif" font-size="9.2" fill="#131722" stroke="#131722" stroke-width="0.18" textLength="13.05" lengthAdjust="spacingAndGlyphs">156</text>
<text x="880.35" y="37.09" font-family="Liberation Sans, sans-serif" font-size="9.2" fill="#131722" stroke="#131722" stroke-width="0.18">.</text>
<text x="883.45" y="37.09" font-family="Liberation Sans, sans-serif" font-size="9.2" fill="#131722" stroke="#131722" stroke-width="0.18" textLength="8.70" lengthAdjust="spacingAndGlyphs">00</text>
<text x="866.80" y="64.74" font-family="Liberation Sans, sans-serif" font-size="9.2" fill="#131722" stroke="#131722" stroke-width="0.18" textLength="13.05" lengthAdjust="spacingAndGlyphs">152</text>
<text x="880.35" y="64.74" font-family="Liberation Sans, sans-serif" font-size="9.2" fill="#131722" stroke="#131722" stroke-width="0.18">.</text>
<text x="883.45" y="64.74" font-family="Liberation Sans, sans-serif" font-size="9.2" fill="#131722" stroke="#131722" stroke-width="0.18" textLength="8.70" lengthAdjust="spacingAndGlyphs">00</text>
<text x="866.80" y="92.38" font-family="Liberation Sans, sans-serif" font-size="9.2" fill="#131722" stroke="#131722" stroke-width="0.18" textLength="13.05" lengthAdjust="spacingAndGlyphs">148</text>
<text x="880.35" y="92.38" font-family="Liberation Sans, sans-serif" font-size="9.2" fill="#131722" stroke="#131722" stroke-width="0.18">.</text>
<text x="883.45" y="92.38" font-family="Liberation Sans, sans-serif" font-size="9.2" fill="#131722" stroke="#131722" stroke-width="0.18" textLength="8.70" lengthAdjust="spacingAndGlyphs">00</text>
<text x="866.80" y="120.03" font-family="Liberation Sans, sans-serif" font-size="9.2" fill="#131722" stroke="#131722" stroke-width="0.18" textLength="13.05" lengthAdjust="spacingAndGlyphs">144</text>
<text x="880.35" y="120.03" font-family="Liberation Sans, sans-serif" font-size="9.2" fill="#131722" stroke="#131722" stroke-width="0.18">.</text>
<text x="883.45" y="120.03" font-family="Liberation Sans, sans-serif" font-size="9.2" fill="#131722" stroke="#131722" stroke-width="0.18" textLength="8.70" lengthAdjust="spacingAndGlyphs">00</text>
<text x="866.80" y="147.67" font-family="Liberation Sans, sans-serif" font-size="9.2" fill="#131722" stroke="#131722" stroke-width="0.18" textLength="13.05" lengthAdjust="spacingAndGlyphs">140</text>
<text x="880.35" y="147.67" font-family="Liberation Sans, sans-serif" font-size="9.2" fill="#131722" stroke="#131722" stroke-width="0.18">.</text>
<text x="883.45" y="147.67" font-family="Liberation Sans, sans-serif" font-size="9.2" fill="#131722" stroke="#131722" stroke-width="0.18" textLength="8.70" lengthAdjust="spacingAndGlyphs">00</text>
<text x="866.80" y="175.31" font-family="Liberation Sans, sans-serif" font-size="9.2" fill="#131722" stroke="#131722" stroke-width="0.18" textLength="13.05" lengthAdjust="spacingAndGlyphs">136</text>
<text x="880.35" y="175.31" font-family="Liberation Sans, sans-serif" font-size="9.2" fill="#131722" stroke="#131722" stroke-width="0.18">.</text>
<text x="883.45" y="175.31" font-family="Liberation Sans, sans-serif" font-size="9.2" fill="#131722" stroke="#131722" stroke-width="0.18" textLength="8.70" lengthAdjust="spacingAndGlyphs">00</text>
<text x="866.80" y="202.96" font-family="Liberation Sans, sans-serif" font-size="9.2" fill="#131722" stroke="#131722" stroke-width="0.18" textLength="13.05" lengthAdjust="spacingAndGlyphs">132</text>
<text x="880.35" y="202.96" font-family="Liberation Sans, sans-serif" font-size="9.2" fill="#131722" stroke="#131722" stroke-width="0.18">.</text>
<text x="883.45" y="202.96" font-family="Liberation Sans, sans-serif" font-size="9.2" fill="#131722" stroke="#131722" stroke-width="0.18" textLength="8.70" lengthAdjust="spacingAndGlyphs">00</text>
<text x="866.80" y="230.60" font-family="Liberation Sans, sans-serif" font-size="9.2" fill="#131722" stroke="#131722" stroke-width="0.18" textLength="13.05" lengthAdjust="spacingAndGlyphs">128</text>
<text x="880.35" y="230.60" font-family="Liberation Sans, sans-serif" font-size="9.2" fill="#131722" stroke="#131722" stroke-width="0.18">.</text>
<text x="883.45" y="230.60" font-family="Liberation Sans, sans-serif" font-size="9.2" fill="#131722" stroke="#131722" stroke-width="0.18" textLength="8.70" lengthAdjust="spacingAndGlyphs">00</text>
<text x="866.80" y="258.25" font-family="Liberation Sans, sans-serif" font-size="9.2" fill="#131722" stroke="#131722" stroke-width="0.18" textLength="13.05" lengthAdjust="spacingAndGlyphs">124</text>
<text x="880.35" y="258.25" font-family="Liberation Sans, sans-serif" font-size="9.2" fill="#131722" stroke="#131722" stroke-width="0.18">.</text>
<text x="883.45" y="258.25" font-family="Liberation Sans, sans-serif" font-size="9.2" fill="#131722" stroke="#131722" stroke-width="0.18" textLength="8.70" lengthAdjust="spacingAndGlyphs">00</text>
<text x="866.80" y="285.89" font-family="Liberation Sans, sans-serif" font-size="9.2" fill="#131722" stroke="#131722" stroke-width="0.18" textLength="13.05" lengthAdjust="spacingAndGlyphs">120</text>
<text x="880.35" y="285.89" font-family="Liberation Sans, sans-serif" font-size="9.2" fill="#131722" stroke="#131722" stroke-width="0.18">.</text>
<text x="883.45" y="285.89" font-family="Liberation Sans, sans-serif" font-size="9.2" fill="#131722" stroke="#131722" stroke-width="0.18" textLength="8.70" lengthAdjust="spacingAndGlyphs">00</text>
<text x="866.80" y="313.53" font-family="Liberation Sans, sans-serif" font-size="9.2" fill="#131722" stroke="#131722" stroke-width="0.18" textLength="13.05" lengthAdjust="spacingAndGlyphs">116</text>
<text x="880.35" y="313.53" font-family="Liberation Sans, sans-serif" font-size="9.2" fill="#131722" stroke="#131722" stroke-width="0.18">.</text>
<text x="883.45" y="313.53" font-family="Liberation Sans, sans-serif" font-size="9.2" fill="#131722" stroke="#131722" stroke-width="0.18" textLength="8.70" lengthAdjust="spacingAndGlyphs">00</text>
<text x="866.80" y="341.18" font-family="Liberation Sans, sans-serif" font-size="9.2" fill="#131722" stroke="#131722" stroke-width="0.18" textLength="13.05" lengthAdjust="spacingAndGlyphs">112</text>
<text x="880.35" y="341.18" font-family="Liberation Sans, sans-serif" font-size="9.2" fill="#131722" stroke="#131722" stroke-width="0.18">.</text>
<text x="883.45" y="341.18" font-family="Liberation Sans, sans-serif" font-size="9.2" fill="#131722" stroke="#131722" stroke-width="0.18" textLength="8.70" lengthAdjust="spacingAndGlyphs">00</text>
<text x="866.80" y="368.82" font-family="Liberation Sans, sans-serif" font-size="9.2" fill="#131722" stroke="#131722" stroke-width="0.18" textLength="13.05" lengthAdjust="spacingAndGlyphs">108</text>
<text x="880.35" y="368.82" font-family="Liberation Sans, sans-serif" font-size="9.2" fill="#131722" stroke="#131722" stroke-width="0.18">.</text>
<text x="883.45" y="368.82" font-family="Liberation Sans, sans-serif" font-size="9.2" fill="#131722" stroke="#131722" stroke-width="0.18" textLength="8.70" lengthAdjust="spacingAndGlyphs">00</text>
<text x="866.80" y="396.47" font-family="Liberation Sans, sans-serif" font-size="9.2" fill="#131722" stroke="#131722" stroke-width="0.18" textLength="13.05" lengthAdjust="spacingAndGlyphs">104</text>
<text x="880.35" y="396.47" font-family="Liberation Sans, sans-serif" font-size="9.2" fill="#131722" stroke="#131722" stroke-width="0.18">.</text>
<text x="883.45" y="396.47" font-family="Liberation Sans, sans-serif" font-size="9.2" fill="#131722" stroke="#131722" stroke-width="0.18" textLength="8.70" lengthAdjust="spacingAndGlyphs">00</text>
<text x="866.80" y="424.11" font-family="Liberation Sans, sans-serif" font-size="9.2" fill="#131722" stroke="#131722" stroke-width="0.18" textLength="13.05" lengthAdjust="spacingAndGlyphs">100</text>
<text x="880.35" y="424.11" font-family="Liberation Sans, sans-serif" font-size="9.2" fill="#131722" stroke="#131722" stroke-width="0.18">.</text>
<text x="883.45" y="424.11" font-family="Liberation Sans, sans-serif" font-size="9.2" fill="#131722" stroke="#131722" stroke-width="0.18" textLength="8.70" lengthAdjust="spacingAndGlyphs">00</text>
<text x="866.40" y="451.75" font-family="Liberation Sans, sans-serif" font-size="9.2" fill="#131722" stroke="#131722" stroke-width="0.18" textLength="8.70" lengthAdjust="spacingAndGlyphs">96</text>
<text x="875.60" y="451.75" font-family="Liberation Sans, sans-serif" font-size="9.2" fill="#131722" stroke="#131722" stroke-width="0.18">.</text>
<text x="878.70" y="451.75" font-family="Liberation Sans, sans-serif" font-size="9.2" fill="#131722" stroke="#131722" stroke-width="0.18" textLength="8.70" lengthAdjust="spacingAndGlyphs">00</text>
<rect x="861.8" y="156.3" width="33.8" height="12.3" rx="1.5" fill="#f23645"/>
<text x="866.80" y="165.6" font-family="Liberation Sans, sans-serif" font-size="9.2" fill="#ffffff" stroke="#ffffff" stroke-width="0.12" textLength="13.05" lengthAdjust="spacingAndGlyphs">137</text>
<text x="880.35" y="165.6" font-family="Liberation Sans, sans-serif" font-size="9.2" fill="#ffffff" stroke="#ffffff" stroke-width="0.12">.</text>
<text x="883.45" y="165.6" font-family="Liberation Sans, sans-serif" font-size="9.2" fill="#ffffff" stroke="#ffffff" stroke-width="0.12" textLength="8.70" lengthAdjust="spacingAndGlyphs">42</text>
<text x="68.80" y="467.5" font-family="Liberation Sans, sans-serif" font-size="8.6" text-anchor="middle" fill="#131722" stroke="#131722" stroke-width="0.42" textLength="14.6" lengthAdjust="spacingAndGlyphs">Apr</text>
<text x="158.52" y="467.5" font-family="Liberation Sans, sans-serif" font-size="8.6" text-anchor="middle" fill="#131722" stroke="#131722" stroke-width="0.42" textLength="15.7" lengthAdjust="spacingAndGlyphs">May</text>
<text x="248.25" y="467.5" font-family="Liberation Sans, sans-serif" font-size="8.6" text-anchor="middle" fill="#131722" stroke="#131722" stroke-width="0.42" textLength="15.3" lengthAdjust="spacingAndGlyphs">Jun</text>
<text x="333.70" y="467.5" font-family="Liberation Sans, sans-serif" font-size="8.6" text-anchor="middle" fill="#131722" stroke="#131722" stroke-width="0.42" textLength="13.3" lengthAdjust="spacingAndGlyphs">Jul</text>
<text x="427.70" y="467.5" font-family="Liberation Sans, sans-serif" font-size="8.6" text-anchor="middle" fill="#131722" stroke="#131722" stroke-width="0.42" textLength="15.6" lengthAdjust="spacingAndGlyphs">Aug</text>
<text x="517.42" y="467.5" font-family="Liberation Sans, sans-serif" font-size="8.6" text-anchor="middle" fill="#131722" stroke="#131722" stroke-width="0.42" textLength="14.7" lengthAdjust="spacingAndGlyphs">Sep</text>
<text x="607.15" y="467.5" font-family="Liberation Sans, sans-serif" font-size="8.6" text-anchor="middle" fill="#131722" stroke="#131722" stroke-width="0.42" textLength="14.0" lengthAdjust="spacingAndGlyphs">Oct</text>
<text x="705.42" y="467.5" font-family="Liberation Sans, sans-serif" font-size="8.6" text-anchor="middle" fill="#131722" stroke="#131722" stroke-width="0.42" textLength="15.4" lengthAdjust="spacingAndGlyphs">Nov</text>
<text x="786.60" y="467.5" font-family="Liberation Sans, sans-serif" font-size="8.6" text-anchor="middle" fill="#131722" stroke="#131722" stroke-width="0.42" textLength="15.0" lengthAdjust="spacingAndGlyphs">Dec</text>
<path d="M877.80 460.50 H883.20 L885.70 464.80 L883.20 469.10 H877.80 L875.30 464.80 Z" fill="none" stroke="#131722" stroke-width="1.0"/>
<circle cx="880.5" cy="464.8" r="1.7" fill="none" stroke="#131722" stroke-width="1.0"/>
<rect x="9.8" y="420.3" width="91.5" height="23.2" rx="11.6" fill="#ffffff" stroke="#e9ebf0" stroke-width="0.8"/>
<path d="M14.1 428.0 H20.5 V435.7 H17.6 V431.0 H14.1 Z M25.6 428.0 H29.3 L26.6 435.7 H23.0 Z" fill="#131722"/>
<circle cx="22.9" cy="429.6" r="1.35" fill="#131722"/>
<text x="32.8" y="435.9" font-family="Liberation Sans, sans-serif" font-size="10.7" fill="#131722" stroke="#131722" stroke-width="0.7" textLength="63.0" lengthAdjust="spacingAndGlyphs">TradingView</text>
<circle cx="13.55" cy="12" r="6.25" fill="#1685b3"/>
<path d="M10.4 8.9 L16.6 15.1 M16.6 8.9 L10.4 15.1" stroke="#ffffff" stroke-width="1.5"/>
<text x="22.6" y="16.0" font-family="Liberation Sans, sans-serif" font-size="10.8" fill="#131722" stroke="#131722" stroke-width="0.25" textLength="54.4" lengthAdjust="spacingAndGlyphs">Xylem Inc.</text>
<text x="80.6" y="16.0" font-family="Liberation Sans, sans-serif" font-size="10.8" fill="#131722" stroke="#131722" stroke-width="0.25" text-anchor="middle">·</text>
<text x="86.0" y="16.0" font-family="Liberation Sans, sans-serif" font-size="10.8" fill="#131722" stroke="#131722" stroke-width="0.25" textLength="11.0" lengthAdjust="spacingAndGlyphs">1D</text>
<text x="102.0" y="16.0" font-family="Liberation Sans, sans-serif" font-size="10.8" fill="#131722" stroke="#131722" stroke-width="0.25" text-anchor="middle">·</text>
<text x="106.3" y="16.0" font-family="Liberation Sans, sans-serif" font-size="10.8" fill="#131722" stroke="#131722" stroke-width="0.25" textLength="49.3" lengthAdjust="spacingAndGlyphs">Cboe One</text>
<rect x="161.3" y="6" width="28" height="12" rx="6" fill="#fff3e0"/>
<path d="M167.3 6 H175.5 V18 H167.3 A6 6 0 0 1 167.3 6 Z" fill="#e3f4f0"/>
<circle cx="168.8" cy="12" r="2.9" fill="#089981"/>
<text x="178.7" y="15.4" font-family="Liberation Sans, sans-serif" font-size="9.8" fill="#ef9430" stroke="#ef9430" stroke-width="0.2" textLength="5.6" lengthAdjust="spacingAndGlyphs">D</text>
<text x="195.4" y="15.9" font-family="Liberation Sans, sans-serif" font-size="9.6" fill="#131722" stroke="#131722" stroke-width="0.15" textLength="6.3" lengthAdjust="spacingAndGlyphs">O</text>
<text x="202.8" y="15.9" font-family="Liberation Sans, sans-serif" font-size="9.6" fill="#e0465a" textLength="27.4" lengthAdjust="spacingAndGlyphs">137.54</text>
<text x="234.1" y="15.9" font-family="Liberation Sans, sans-serif" font-size="9.6" fill="#131722" stroke="#131722" stroke-width="0.15" textLength="6.4" lengthAdjust="spacingAndGlyphs">H</text>
<text x="241.5" y="15.9" font-family="Liberation Sans, sans-serif" font-size="9.6" fill="#e0465a" textLength="27.2" lengthAdjust="spacingAndGlyphs">137.90</text>
<text x="273.2" y="15.9" font-family="Liberation Sans, sans-serif" font-size="9.6" fill="#131722" stroke="#131722" stroke-width="0.15" textLength="5.2" lengthAdjust="spacingAndGlyphs">L</text>
<text x="278.9" y="15.9" font-family="Liberation Sans, sans-serif" font-size="9.6" fill="#e0465a" textLength="26.6" lengthAdjust="spacingAndGlyphs">136.83</text>
<text x="310.2" y="15.9" font-family="Liberation Sans, sans-serif" font-size="9.6" fill="#131722" stroke="#131722" stroke-width="0.15" textLength="6.1" lengthAdjust="spacingAndGlyphs">C</text>
<text x="316.7" y="15.9" font-family="Liberation Sans, sans-serif" font-size="9.6" fill="#e0465a" textLength="27.4" lengthAdjust="spacingAndGlyphs">137.42</text>
<text x="348.5" y="15.9" font-family="Liberation Sans, sans-serif" font-size="9.6" fill="#e0465a" textLength="61.2" lengthAdjust="spacingAndGlyphs">+0.47 (+0.34%)</text>
<text x="408.2" y="489.3" font-family="Liberation Sans, sans-serif" font-size="9" fill="#3b6cf5" stroke="#3b6cf5" stroke-width="0.3" textLength="18.9" lengthAdjust="spacingAndGlyphs">Data</text>
<text x="429.8" y="489.3" font-family="Liberation Sans, sans-serif" font-size="9.1" fill="#b2b5be" textLength="62.4" lengthAdjust="spacingAndGlyphs">by TradingView</text>
</svg>
</body></html>
